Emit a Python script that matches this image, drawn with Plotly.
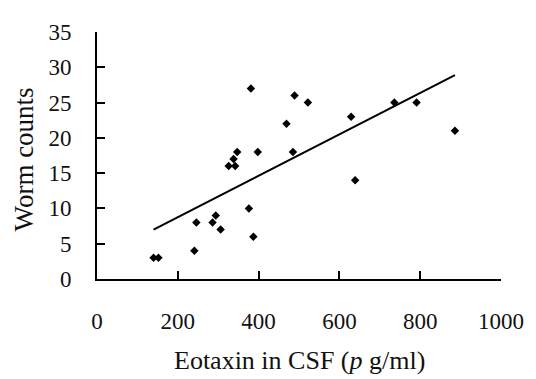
import plotly.graph_objects as go

# Data
eotaxin = [140, 152, 241, 246, 286, 294, 306, 326, 338, 342, 347, 376, 381, 387,
           398, 469, 485, 489, 522, 629, 639, 736, 791, 886]
worms = [3, 3, 4, 8, 8, 9, 7, 16, 17, 16, 18, 10, 27, 6,
         18, 22, 18, 26, 25, 23, 14, 25, 25, 21]
trend_x = [140, 886]
trend_y = [7.0, 28.9]

x_ticks = [0, 200, 400, 600, 800, 1000]
y_ticks = [0, 5, 10, 15, 20, 25, 30, 35]

FONT = "Liberation Serif"

fig = go.Figure()
fig.add_trace(go.Scatter(x=trend_x, y=trend_y, mode="lines",
                         line=dict(color="black", width=2), showlegend=False,
                         hoverinfo="skip"))
fig.add_trace(go.Scatter(x=eotaxin, y=worms, mode="markers",
                         marker=dict(symbol="diamond", size=6.5, color="black"),
                         showlegend=False))

# the page body has an 8px default margin, so the figure is sized to fit inside
fig.update_layout(
    width=528, height=371,
    margin=dict(l=89, r=31, t=12, b=100),
    paper_bgcolor="white", plot_bgcolor="white",
    font=dict(family=FONT, size=23, color="#111"),
    xaxis=dict(range=[0, 1000], tickvals=x_ticks, ticks="inside", ticklen=8,
               tickwidth=2, tickcolor="black", showline=True, linecolor="black",
               linewidth=2, showgrid=False, zeroline=False,
               ticklabelstandoff=20, fixedrange=True),
    yaxis=dict(range=[0, 35], tickvals=y_ticks, ticks="inside", ticklen=8,
               tickwidth=2, tickcolor="black", showline=True, linecolor="black",
               linewidth=2, showgrid=False, zeroline=False,
               ticklabelstandoff=19, fixedrange=True),
    annotations=[
        dict(text="Eotaxin in CSF (<i>p</i> g/ml)", xref="paper", yref="paper",
             x=0.502, y=-0.33, showarrow=False, xanchor="center", yanchor="middle",
             font=dict(family=FONT, size=26, color="#111")),
        dict(text="Worm counts", xref="paper", yref="paper", x=-0.182, y=0.486,
             textangle=-90, showarrow=False, xanchor="center", yanchor="middle",
             font=dict(family=FONT, size=27, color="#111")),
    ],
)

fig.write_html("out.html")
